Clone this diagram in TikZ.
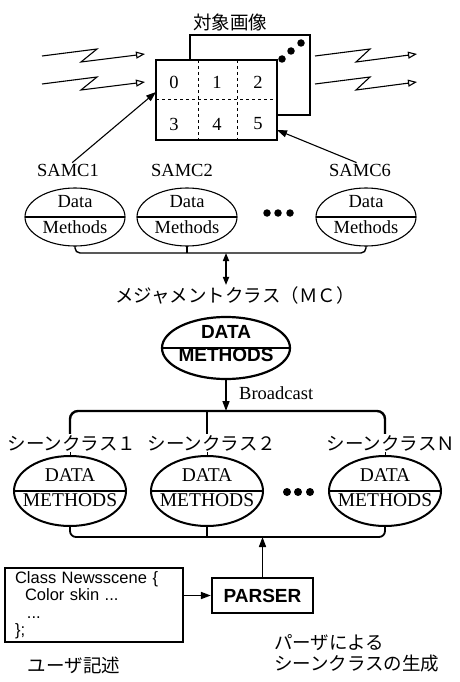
\documentclass[tikz,border=0pt]{standalone}
\usepackage{fontspec}
\setmainfont{Liberation Serif}
\setsansfont{Liberation Sans}
\newfontfamily\jfont{Noto Sans CJK JP}
\usetikzlibrary{shapes.geometric,arrows.meta}

\tikzset{
	samc/.style={shape=ellipse, draw, line width=1.1pt, minimum width=100pt, minimum height=58pt, inner sep=0pt, outer sep=0pt},
	scene/.style={shape=ellipse, draw, line width=2pt, minimum width=112pt, minimum height=70pt, inner sep=0pt, outer sep=0pt},
	mcell/.style={shape=ellipse, draw, line width=2.2pt, minimum width=128pt, minimum height=62pt, inner sep=0pt, outer sep=0pt},
	rmtext/.style={font=\fontsize{18.5}{20}\selectfont, inner sep=1pt},
	scenetext/.style={font=\fontsize{19.5}{21}\selectfont, inner sep=1pt},
	jtext/.style={font=\jfont\fontsize{18.5}{20}\selectfont, inner sep=1pt},
	boldtext/.style={font=\sffamily\bfseries\fontsize{19}{21}\selectfont},
	arr/.style={-{Triangle[length=10pt,width=7pt]}},
	zigzag/.style={-{Triangle[open,length=9pt,width=7pt]}, line width=1.1pt},
	blob/.style={shape=circle, fill, inner sep=0pt, minimum size=7.5pt},
}

\begin{document}
\begin{tikzpicture}[x=1pt,y=-1pt]
	\useasboundingbox (0,0) rectangle (459,682);

	% target image
	\node[jtext] (title) at (230,22) {対象画像};
	\draw[line width=1.1pt] (190,35) rectangle (310,115);
	\node[draw, fill=white, line width=1.5pt, minimum width=121pt, minimum height=80pt, inner sep=0pt, outer sep=0pt] (front) at (216.5,100) {};
	\draw[dashed, line width=0.9pt] (198,60) -- (198,140);
	\draw[dashed, line width=0.9pt] (237,60) -- (237,140);
	\draw[dashed, line width=0.9pt] (156,99) -- (277,99);
	\node[rmtext] (c0) at (174,82) {0};
	\node[rmtext] (c1) at (217,82) {1};
	\node[rmtext] (c2) at (258,82) {2};
	\node[rmtext] (c3) at (174,124) {3};
	\node[rmtext] (c4) at (217,124) {4};
	\node[rmtext] (c5) at (258,124) {5};
	\node[blob] (d1) at (282,59) {};
	\node[blob] (d2) at (291,51) {};
	\node[blob] (d3) at (301,43) {};

	% incoming / outgoing
	\draw[zigzag] (42,56) -- (97,49) -- (81,62) -- (145,54);
	\draw[zigzag] (42,84) -- (97,77) -- (81,90) -- (145,82);
	\draw[zigzag] (315,56) -- (370,49) -- (356,62) -- (417,54);
	\draw[zigzag] (315,84) -- (370,77) -- (356,90) -- (417,82);

	% SAMC
	\node[rmtext] (samc1) at (68,170) {SAMC1};
	\node[rmtext] (samc2) at (182,170) {SAMC2};
	\node[rmtext] (samc6) at (360,170) {SAMC6};
	\path[arr, line width=1.1pt] (samc1.60) edge ([yshift=8pt]front.west);
	\path[arr, line width=1.1pt] (samc6.115) edge ([yshift=-30pt]front.east);

	\node[samc] (s1) at (75,217) {};
	\node[samc] (s2) at (187,217) {};
	\node[samc] (s3) at (366,217) {};
	\draw[line width=1.1pt] (s1.west) -- (s1.east);
	\draw[line width=1.1pt] (s2.west) -- (s2.east);
	\draw[line width=1.1pt] (s3.west) -- (s3.east);
	\node[rmtext] at ([yshift=15pt]s1.center) {Data};
	\node[rmtext] at ([yshift=-10pt]s1.center) {Methods};
	\node[rmtext] at ([yshift=15pt]s2.center) {Data};
	\node[rmtext] at ([yshift=-10pt]s2.center) {Methods};
	\node[rmtext] at ([yshift=15pt]s3.center) {Data};
	\node[rmtext] at ([yshift=-10pt]s3.center) {Methods};
	\node[blob] (sd1) at (267,213) {};
	\node[blob] (sd2) at (278,213) {};
	\node[blob] (sd3) at (290,213) {};

	\coordinate (bus1) at (226,253);
	\draw[line width=1.4pt, rounded corners=5pt] (s1.south) -- (s1.south |- bus1) -- (s3.south |- bus1) -- (s3.south);
	\draw[line width=1.4pt] (s2.south) -- (s2.south |- bus1);

	% measurement class
	\node[jtext] (mclab) at (235,295) {メジャメントクラス（ＭＣ）};
	\draw[line width=1.6pt, {Triangle[length=8pt,width=6pt]}-{Triangle[length=8pt,width=6pt]}] (bus1) -- (bus1 |- mclab.north);

	\node[mcell] (mc) at (226,348) {};
	\draw[line width=2.2pt] (mc.west) -- (mc.east);
	\node[boldtext] at ([yshift=16pt]mc.center) {DATA};
	\node[boldtext] at ([yshift=-7pt]mc.center) {METHODS};

	\coordinate (bus2) at (226,411);
	\draw[arr, line width=1.5pt] (mc.south) -- (bus2);
	\node[rmtext, anchor=west] (bc) at (238,393) {Broadcast};

	% scene classes
	\node[jtext] (l1) at (72,443) {シーンクラス１};
	\node[jtext] (l2) at (212,443) {シーンクラス２};
	\node[jtext] (l3) at (391,443) {シーンクラスＮ};
	\node[scene] (e1) at (70,491) {};
	\node[scene] (e2) at (207,491) {};
	\node[scene] (e3) at (385,491) {};

	\draw[line width=2.4pt, rounded corners=8pt] (e1.north |- l1.north) -- (e1.north |- bus2) -- (e3.north |- bus2) -- (e3.north |- l3.north);
	\draw[line width=2.4pt] (e2.north |- bus2) -- (e2.north |- l2.north);
	\draw[line width=1pt] (e1.north |- l1.south) -- (e1.north);
	\draw[line width=1pt] (e2.north |- l2.south) -- (e2.north);
	\draw[line width=1pt] (e3.north |- l3.south) -- (e3.north);

	\draw[line width=2pt] (e1.west) -- (e1.east);
	\draw[line width=2pt] (e2.west) -- (e2.east);
	\draw[line width=2pt] (e3.west) -- (e3.east);
	\node[scenetext] at ([yshift=16pt]e1.center) {DATA};
	\node[scenetext] at ([yshift=-9pt]e1.center) {METHODS};
	\node[scenetext] at ([yshift=16pt]e2.center) {DATA};
	\node[scenetext] at ([yshift=-9pt]e2.center) {METHODS};
	\node[scenetext] at ([yshift=16pt]e3.center) {DATA};
	\node[scenetext] at ([yshift=-9pt]e3.center) {METHODS};
	\node[blob, minimum size=8pt] (ed1) at (287,492) {};
	\node[blob, minimum size=8pt] (ed2) at (298,492) {};
	\node[blob, minimum size=8pt] (ed3) at (310,492) {};

	\coordinate (bus3) at (262.5,537);
	\draw[line width=1.8pt, rounded corners=6pt] (e1.south) -- (e1.south |- bus3) -- (e3.south |- bus3) -- (e3.south);
	\draw[line width=1.8pt] (e2.south) -- (e2.south |- bus3);

	% parser
	\node[draw, line width=2.2pt, minimum width=101pt, minimum height=35pt, boldtext] (parser) at (262.5,595.5) {PARSER};
	\draw[arr, line width=1.6pt] (parser.north) -- (bus3);

	\node[draw, line width=1.4pt, minimum width=178pt, minimum height=74pt, text width=158pt, align=left, inner sep=0pt, font=\sffamily\fontsize{16.5}{17.5}\selectfont] (code) at (94,605) {Class Newsscene \{\\ \hspace*{10pt}Color skin ...\\ \hspace*{12pt}...\\ \};};
	\draw[arr, line width=1.6pt] (code.east |- parser.west) -- (parser.west);

	\node[jtext] (user) at (74,665) {ユーザ記述};
	\node[jtext, anchor=west] (gen1) at (273,643) {パーザによる};
	\node[jtext, anchor=west] (gen2) at (273,664) {シーンクラスの生成};
\end{tikzpicture}
\end{document}
